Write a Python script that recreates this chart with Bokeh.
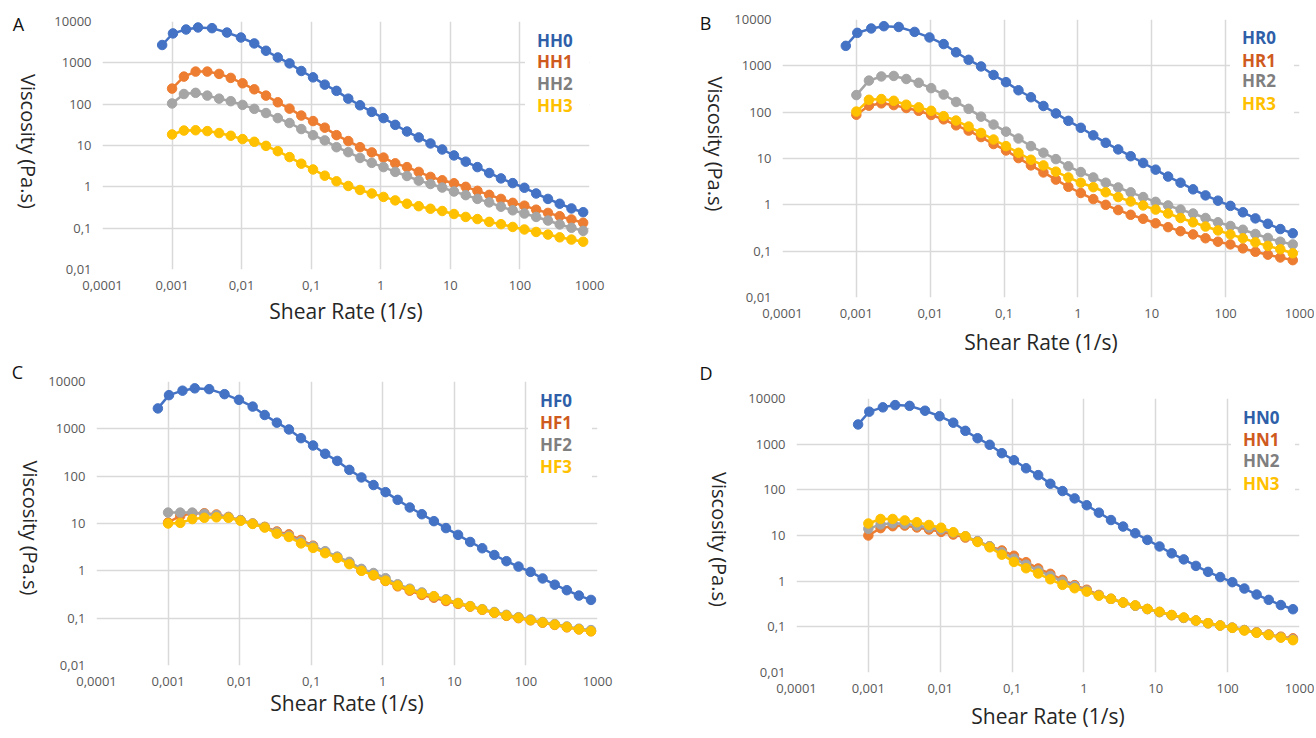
import math
from bokeh.plotting import figure
from bokeh.layouts import row, column
from bokeh.models import (Range1d, FixedTicker, Legend, LegendItem,
                          CustomJSTickFormatter)
from bokeh.core.properties import value
from bokeh.embed import file_html
from bokeh.resources import INLINE

# ---------------- data ----------------
SHEAR_CTRL = [0.00072, 0.00103, 0.00159, 0.00236, 0.00375, 0.00615, 0.00977,
              0.0152, 0.0224, 0.0331, 0.0488, 0.0720, 0.1062, 0.1566, 0.231,
              0.341, 0.503, 0.742, 1.094, 1.614, 2.380, 3.511, 5.18, 7.64,
              11.27, 16.63, 24.5, 36.2, 53.4, 78.7, 116, 171, 253, 373, 550, 811]
SHEAR = [0.001, 0.00148, 0.00218, 0.00321, 0.00474, 0.00698, 0.0103,
         0.0152, 0.0224, 0.0331, 0.0488, 0.0720, 0.1062, 0.1566, 0.231,
         0.341, 0.503, 0.742, 1.094, 1.614, 2.380, 3.511, 5.18, 7.64,
         11.27, 16.63, 24.5, 36.2, 53.4, 78.7, 116, 171, 253, 373, 550, 811]

ETA_CTRL = [2700, 5150, 6400, 7170, 6900, 5400, 4100, 2950, 1960, 1350,
            970, 635, 445, 297, 210, 136, 94, 65, 46, 31.6,
            21.8, 15.7, 11.2, 8.0, 5.75, 4.07, 3.0, 2.16, 1.6, 1.23,
            0.95, 0.69, 0.51, 0.39, 0.30, 0.243]

HH1 = [238, 464, 614, 614, 540, 432, 320, 229, 161, 111,
       78, 53, 39, 27, 17.8, 12.8, 9.1, 6.8, 5.1, 3.7,
       3.0, 2.3, 1.74, 1.44, 1.22, 1.0, 0.80, 0.64, 0.51, 0.41,
       0.35, 0.28, 0.234, 0.195, 0.162, 0.135]
HH2 = [104, 176, 188, 161, 136, 118, 96, 77, 61, 46,
       35, 25, 17.8, 13.3, 9.1, 6.9, 5.0, 3.8, 3.0, 2.3,
       1.83, 1.41, 1.17, 0.96, 0.77, 0.63, 0.51, 0.42, 0.33, 0.27,
       0.226, 0.187, 0.153, 0.123, 0.102, 0.086]
HH3 = [18.5, 23, 23.4, 22.3, 20, 17.2, 14.3, 12.3, 9.8, 7.3,
       5.25, 3.63, 2.63, 1.86, 1.36, 1.05, 0.84, 0.69, 0.57, 0.47,
       0.39, 0.34, 0.295, 0.26, 0.22, 0.187, 0.166, 0.142, 0.125, 0.107,
       0.093, 0.081, 0.07, 0.06, 0.053, 0.047]

HR1 = [88, 138, 155, 142, 123, 107, 87, 70, 52, 40,
       29, 20.5, 14.9, 10.2, 7.1, 5.0, 3.5, 2.45, 1.8, 1.33,
       1.0, 0.77, 0.61, 0.5, 0.40, 0.33, 0.27, 0.23, 0.19, 0.16,
       0.14, 0.115, 0.097, 0.084, 0.073, 0.064]
HR2 = [234, 480, 590, 605, 520, 430, 330, 240, 166, 118,
       80, 54, 38, 27, 18.5, 13.3, 9.7, 6.8, 5.1, 3.9,
       3.0, 2.37, 1.86, 1.47, 1.16, 0.97, 0.79, 0.65, 0.52, 0.42,
       0.35, 0.29, 0.235, 0.193, 0.16, 0.14]
HR3 = [103, 185, 192, 176, 145, 127, 107, 82, 66, 49,
       35.6, 25.7, 18.5, 13.3, 9.4, 7.1, 5.2, 3.9, 3.0, 2.4,
       1.87, 1.47, 1.18, 0.97, 0.79, 0.65, 0.52, 0.42, 0.34, 0.28,
       0.23, 0.19, 0.155, 0.13, 0.11, 0.09]

HF1 = [10.5, 14.5, 16.5, 16.5, 15.5, 13.8, 11.8, 10, 8.5, 6.8,
       5.9, 4.5, 3.4, 2.5, 1.95, 1.45, 1.02, 0.8, 0.61, 0.47,
       0.38, 0.31, 0.27, 0.23, 0.2, 0.175, 0.15, 0.13, 0.112, 0.1,
       0.09, 0.08, 0.072, 0.064, 0.058, 0.053]
HF2 = [17, 17, 17, 16, 15, 13.6, 11.8, 10, 8.4, 6.5,
       5.5, 4.2, 3.3, 2.6, 2.0, 1.55, 1.1, 0.9, 0.7, 0.52,
       0.42, 0.35, 0.29, 0.25, 0.21, 0.18, 0.155, 0.135, 0.118, 0.105,
       0.094, 0.083, 0.075, 0.067, 0.06, 0.056]
HF3 = [10, 10.3, 12.4, 13.2, 13.5, 13.2, 11.4, 9.8, 8.2, 6.1,
       5.2, 3.8, 3.05, 2.36, 1.87, 1.38, 1.0, 0.81, 0.62, 0.49,
       0.40, 0.33, 0.29, 0.243, 0.207, 0.178, 0.152, 0.131, 0.114, 0.102,
       0.091, 0.081, 0.073, 0.065, 0.058, 0.053]

HN1 = [10, 14.5, 16, 16.5, 15, 13.5, 12, 10.5, 9, 7.5,
       5.8, 4.7, 3.6, 2.6, 1.9, 1.45, 1.07, 0.82, 0.65, 0.5,
       0.41, 0.34, 0.29, 0.245, 0.21, 0.18, 0.157, 0.137, 0.12, 0.107,
       0.096, 0.085, 0.076, 0.068, 0.061, 0.056]
HN2 = [14, 17.5, 18.5, 18, 16.5, 15, 13.5, 11.5, 9.6, 7.5,
       5.8, 4.3, 3.1, 2.3, 1.7, 1.3, 0.98, 0.78, 0.62, 0.49,
       0.41, 0.34, 0.29, 0.245, 0.21, 0.18, 0.157, 0.137, 0.12, 0.107,
       0.096, 0.085, 0.075, 0.067, 0.059, 0.053]
HN3 = [18.3, 23, 23, 21.4, 19.5, 17, 14.8, 11.8, 9.6, 7.2,
       5.5, 3.8, 2.64, 1.92, 1.47, 1.1, 0.83, 0.7, 0.59, 0.48,
       0.41, 0.34, 0.295, 0.247, 0.214, 0.182, 0.16, 0.137, 0.12, 0.107,
       0.095, 0.083, 0.074, 0.066, 0.058, 0.051]

NAMES_A = ["HH0", "HH1", "HH2", "HH3"]
NAMES_B = ["HR0", "HR1", "HR2", "HR3"]
NAMES_C = ["HF0", "HF1", "HF2", "HF3"]
NAMES_D = ["HN0", "HN1", "HN2", "HN3"]

X_TICKS = [0.0001, 0.001, 0.01, 0.1, 1, 10, 100, 1000]
X_TICK_LABELS = ["0,0001", "0,001", "0,01", "0,1", "1", "10", "100", "1000"]
Y_TICKS = [0.01, 0.1, 1, 10, 100, 1000, 10000]
Y_TICK_LABELS = ["0,01", "0,1", "1", "10", "100", "1000", "10000"]

X_TITLE = "Shear Rate (1/s)"
Y_TITLE = "Viscosity (Pa.s)"

# ---------------- style ----------------
COLORS = ["#4472C4", "#ED7D31", "#A5A5A5", "#FFC000"]
LEGEND_COLORS = ["#2E5FA8", "#CF5A1E", "#7F7F7F", "#FFC000"]
FONT = "Open Sans"
GRID = "#d9d9d9"

FMT_CODE = """
const lt = Math.log10(tick);
for (let i = 0; i < tv.length; i++) {
  if (Math.abs(Math.log10(tv[i]) - lt) < 1e-6) return tl[i];
}
return '';
"""


def no_align(fig):
    if "frame_align" in fig.properties():
        fig.frame_align = False


def strip(w, h, letter, letter_xy, ytitle_xy):
    """Narrow figure left of a panel holding the panel letter and the
    (top-to-bottom) y-axis title; its ranges are in pixels (y up)."""
    s = figure(width=w, height=h, x_range=Range1d(0, w), y_range=Range1d(0, h),
               output_backend="svg", toolbar_location=None,
               x_axis_location=None, y_axis_location=None, min_border=0)
    no_align(s)
    s.outline_line_color = None
    s.background_fill_color = "white"
    s.border_fill_color = "white"
    s.xgrid.visible = False
    s.ygrid.visible = False
    s.text(x=[letter_xy[0]], y=[letter_xy[1]], text=[letter],
           text_font=value(FONT), text_font_size=value("18px"),
           text_color="#111111", text_align="center", text_baseline="middle")
    s.text(x=[ytitle_xy[0]], y=[ytitle_xy[1]], text=[Y_TITLE],
           text_font=value(FONT), text_font_size=value("20px"),
           text_color="#262626", text_align="center", text_baseline="middle",
           angle=-math.pi / 2)
    return s


def panel(names, series, w, h, fl, fr, ft, fb, xtitle_standoff,
          leg_left, leg_centers):
    # fl/fr/ft/fb: (frame edge in page px, border size)
    p = figure(width=w, height=h, x_axis_type="log", y_axis_type="log",
               x_range=Range1d(0.0001, 1000), y_range=Range1d(0.01, 10000),
               output_backend="svg", toolbar_location=None,
               min_border_left=fl[1], min_border_right=fr[1],
               min_border_top=ft[1], min_border_bottom=fb[1])
    no_align(p)
    frame_left, frame_bottom = fl[0], fb[0]
    p.outline_line_color = None
    p.background_fill_color = "white"
    p.border_fill_color = "white"

    p.xaxis.ticker = FixedTicker(ticks=X_TICKS)
    p.yaxis.ticker = FixedTicker(ticks=Y_TICKS)
    p.xgrid.ticker = FixedTicker(ticks=X_TICKS)
    p.ygrid.ticker = FixedTicker(ticks=Y_TICKS)
    p.xaxis.formatter = CustomJSTickFormatter(
        args=dict(tv=X_TICKS, tl=X_TICK_LABELS), code=FMT_CODE)
    p.yaxis.formatter = CustomJSTickFormatter(
        args=dict(tv=Y_TICKS, tl=Y_TICK_LABELS), code=FMT_CODE)
    for g in (p.xgrid, p.ygrid):
        g.grid_line_color = GRID
        g.grid_line_width = 1.5
    for ax in (p.xaxis, p.yaxis):
        ax.axis_line_color = None
        ax.major_tick_line_color = None
        ax.minor_tick_line_color = None
        ax.major_tick_out = 0
        ax.major_tick_in = 0
        ax.major_label_text_font = FONT
        ax.major_label_text_font_size = "13px"
        ax.major_label_text_color = "#595959"
        ax.major_label_standoff = 11
    p.xaxis.axis_label = X_TITLE
    p.xaxis.axis_label_text_font = FONT
    p.xaxis.axis_label_text_font_size = "21px"
    p.xaxis.axis_label_text_font_style = "normal"
    p.xaxis.axis_label_text_color = "#262626"
    p.xaxis.axis_label_standoff = xtitle_standoff

    renderers = []
    for i, (xs, ys) in enumerate(series):
        r = p.line(xs, ys, line_color=COLORS[i], line_width=2.5)
        p.scatter(xs, ys, marker="circle", size=9.5, fill_color=COLORS[i],
                  line_color=COLORS[i])
        renderers.append(r)

    item_h = 23
    for i, name in enumerate(names):
        lx = leg_left - 12 - frame_left
        ly = frame_bottom - leg_centers[i] - item_h / 2
        leg = Legend(items=[LegendItem(label=name, renderers=[renderers[i]])],
                     location=(lx, ly),
                     glyph_width=0, glyph_height=18, label_standoff=12,
                     label_width=52, label_height=18, padding=0, spacing=0,
                     margin=0, background_fill_color="white",
                     background_fill_alpha=1.0, border_line_color=None,
                     label_text_color=LEGEND_COLORS[i], label_text_font=FONT,
                     label_text_font_style="bold",
                     label_text_font_size="17px")
        p.add_layout(leg, "center")
    return p


# Page layout (page px from the top-left corner).
# A: strip x 0..50, main x 50..690, y 0..360; frame x 102..589, y 21..269
sA = strip(50, 360, "A", (18, 336.5), (27.5, 219))
pA = panel(NAMES_A,
           [(SHEAR_CTRL, ETA_CTRL), (SHEAR, HH1), (SHEAR, HH2), (SHEAR, HH3)],
           640, 360, (102, 52), (589, 101), (21, 21), (269, 91), 4,
           537, [40, 61.7, 83, 105])
# C: strip x 0..45, main x 45..690, y 360..736; frame x 95..597, y 381..665
sC = strip(45, 376, "C", (17, 364.5), (30, 208.5))
pC = panel(NAMES_C,
           [(SHEAR_CTRL, ETA_CTRL), (SHEAR, HF1), (SHEAR, HF2), (SHEAR, HF3)],
           645, 376, (95, 50), (597, 93), (381, 21), (665, 71), 0,
           539, [400.7, 422, 444, 466])
# B: strip x 690..730, main x 730..1314, y 0..362; frame x 782..1299, y 19..297
sB = strip(40, 362, "B", (15, 340), (24.5, 218.5))
pB = panel(NAMES_B,
           [(SHEAR_CTRL, ETA_CTRL), (SHEAR, HR1), (SHEAR, HR2), (SHEAR, HR3)],
           584, 362, (782, 52), (1299, 15), (19, 19), (297, 65), 7,
           1242, [37.3, 60, 80.7, 103])
# D: strip x 690..740, main x 740..1314, y 362..736; frame x 796..1299, y 398..672
sD = strip(50, 374, "D", (15.5, 364), (28.7, 197))
pD = panel(NAMES_D,
           [(SHEAR_CTRL, ETA_CTRL), (SHEAR, HN1), (SHEAR, HN2), (SHEAR, HN3)],
           574, 374, (796, 56), (1299, 15), (398, 36), (672, 64), 6,
           1243, [417, 439, 460.7, 483])

layout = row(column(row(sA, pA), row(sC, pC)),
             column(row(sB, pB), row(sD, pD)))

with open("out.html", "w") as f:
    f.write(file_html(layout, INLINE))
